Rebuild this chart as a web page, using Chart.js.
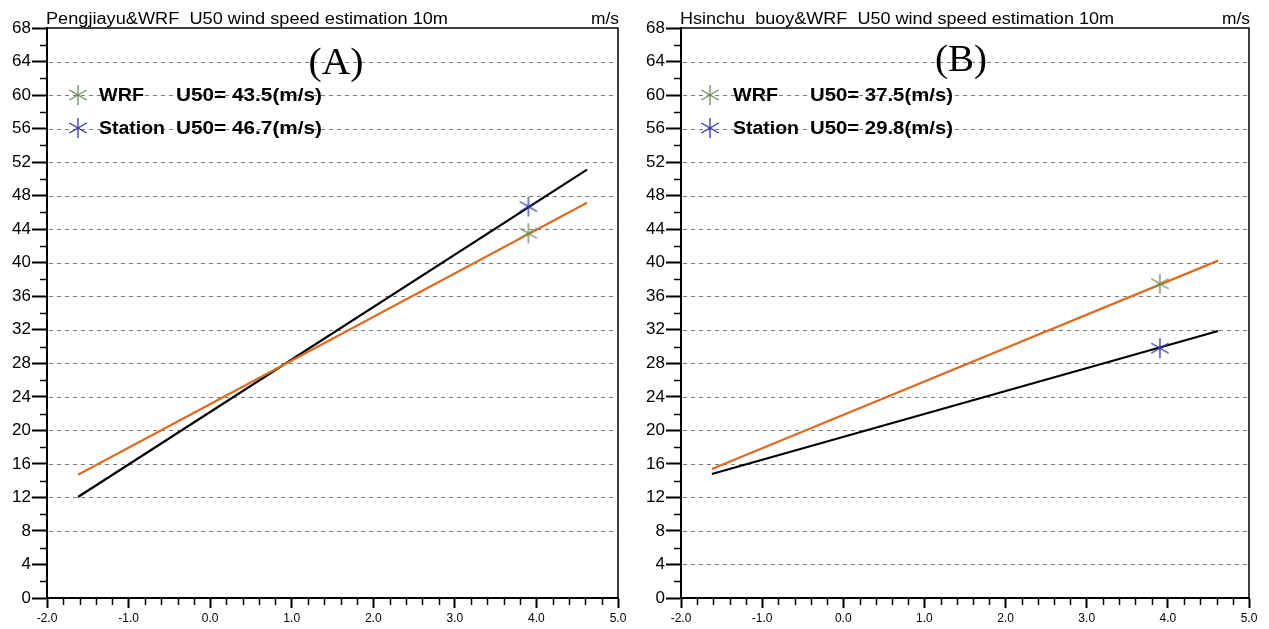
<!DOCTYPE html>
<html><head><meta charset="utf-8">
<script src="https://cdn.jsdelivr.net/npm/chart.js@4.4.1/dist/chart.umd.min.js"></script>
<style>
html,body{margin:0;padding:0;background:#fff;overflow:hidden}
#wrap{position:relative;width:1269px;height:629px;background:#fff}
canvas{position:absolute;top:0}
</style></head><body>
<div id="wrap">
<canvas id="cA" width="640" height="629" style="left:0;width:640px;height:629px"></canvas>
<canvas id="cB" width="629" height="629" style="left:640px;width:629px;height:629px"></canvas>
</div>
<script>
// ---- data ----
const fitX = [-1.62, 4.62];           // Gumbel reduced variate span of fitted lines
const returnX = 3.902;                // 50-year reduced variate
const pengWRFFit = [14.7, 47.15];
const pengStationFit = [12.05, 51.1];
const pengWRFU50 = 43.5;
const pengStationU50 = 46.7;
const hsinWRFFit = [15.4, 40.25];
const hsinStationFit = [14.8, 31.85];
const hsinWRFU50 = 37.5;
const hsinStationU50 = 29.8;
const gridLevelsA = [8,12,16,20,24,28,32,36,40,44,48,52,56,60,64];
const gridLevelsB = [4,8,12,16,20,24,28,32,36,40,44,48,52,56,60,64];
const titleA = "Pengjiayu&WRF  U50 wind speed estimation 10m";
const titleB = "Hsinchu  buoy&WRF  U50 wind speed estimation 10m";
const unitText = "m/s";
const panelA = "(A)", panelB = "(B)";

const GREEN = '#6e8b54', BLUE = '#3434aa', ORANGE = '#dc6c24';

function makeStar(color){
  const c = document.createElement('canvas');
  c.width = 24; c.height = 24;
  const g = c.getContext('2d');
  g.strokeStyle = color; g.lineWidth = 1.3;
  const r = 10;
  [90, 30, 150].forEach(a => {
    const t = a*Math.PI/180;
    g.beginPath();
    g.moveTo(12 + r*Math.cos(t), 12 - r*Math.sin(t));
    g.lineTo(12 - r*Math.cos(t), 12 + r*Math.sin(t));
    g.stroke();
  });
  return c;
}
const starG = makeStar(GREEN), starB = makeStar(BLUE);

function fitText(ctx, text, x, y, targetW, font, align){
  ctx.save();
  ctx.font = font;
  const w = ctx.measureText(text).width;
  const s = targetW / w;
  ctx.textAlign = 'left';
  ctx.textBaseline = 'alphabetic';
  const x0 = align === 'right' ? x - targetW : (align === 'center' ? x - targetW/2 : x);
  ctx.translate(x0, y);
  ctx.scale(s, 1);
  ctx.fillText(text, 0, 0);
  ctx.restore();
}

function panelPlugin(cfg){
  return {
    id: 'panel',
    beforeDatasetsDraw(chart){
      const {ctx, chartArea:a, scales:{y}} = chart;
      ctx.save();
      ctx.strokeStyle = '#7a7a7a'; ctx.lineWidth = 1; ctx.setLineDash([4,4]);
      cfg.grid.forEach(v => {
        const py = Math.round(y.getPixelForValue(v)) + 0.5;
        ctx.beginPath(); ctx.moveTo(a.left+2, py); ctx.lineTo(a.right, py); ctx.stroke();
      });
      ctx.restore();
      ctx.save();
      ctx.fillStyle = '#000';
      const f = 'bold 18px "Liberation Sans", Arial, sans-serif';
      ctx.drawImage(starG, cfg.legX - 12, cfg.legY1 - 12);
      ctx.drawImage(starB, cfg.legX - 12, cfg.legY2 - 12);
      fitText(ctx, 'WRF', cfg.txtX, cfg.legY1 + 6, cfg.wrfW, f);
      fitText(ctx, cfg.wrfU, cfg.u50X, cfg.legY1 + 6, cfg.uW, f);
      fitText(ctx, 'Station', cfg.txtX, cfg.legY2 + 6, cfg.stW, f);
      fitText(ctx, cfg.stU, cfg.u50X, cfg.legY2 + 6, cfg.uW, f);
      ctx.restore();
    },
    afterDraw(chart){
      const {ctx, chartArea:a, scales:{x,y}} = chart;
      ctx.save();
      ctx.strokeStyle = '#000'; ctx.lineWidth = 1.5;
      ctx.beginPath();
      ctx.moveTo(a.left, a.top); ctx.lineTo(a.right, a.top); ctx.lineTo(a.right, a.bottom);
      ctx.stroke();
      ctx.lineWidth = 1.5;
      for (let v = 2; v < 68; v += 4){
        const py = Math.round(y.getPixelForValue(v)) + 0.5;
        ctx.beginPath(); ctx.moveTo(a.left - 7, py); ctx.lineTo(a.left, py); ctx.stroke();
      }
      for (let i = 0; i <= 35; i++){
        if (i % 5 === 0) continue;
        const v = -2 + i*0.2;
        const px = Math.round(x.getPixelForValue(v)) + 0.5;
        ctx.beginPath(); ctx.moveTo(px, a.bottom); ctx.lineTo(px, a.bottom + 7); ctx.stroke();
      }
      ctx.fillStyle = '#000';
      const tf = '16px "Liberation Sans", Arial, sans-serif';
      fitText(ctx, cfg.title, a.left - 1, 24, cfg.titleW, tf);
      fitText(ctx, unitText, a.right + 1, 24, 28, tf, 'right');
      fitText(ctx, cfg.panel, cfg.panelX, cfg.panelY, cfg.panelW, '37px "Liberation Serif", "Times New Roman", serif', 'center');
      ctx.restore();
    }
  };
}

function makeChart(id, fitW, fitS, u50W, u50S, padRight, yWidth, cfg){
  const xs = fitX;
  return new Chart(document.getElementById(id), {
    type: 'scatter',
    data: {
      datasets: [
        { label: 'Station fit', data: [{x: xs[0], y: fitS[0]}, {x: xs[1], y: fitS[1]}],
          showLine: true, borderColor: '#000', borderWidth: 2.2, pointRadius: 0, order: 3 },
        { label: 'WRF fit', data: [{x: xs[0], y: fitW[0]}, {x: xs[1], y: fitW[1]}],
          showLine: true, borderColor: ORANGE, borderWidth: 2.2, pointRadius: 0, order: 2 },
        { label: 'WRF', data: [{x: returnX, y: u50W}], pointStyle: starG, pointRadius: 10, order: 1 },
        { label: 'Station', data: [{x: returnX, y: u50S}], pointStyle: starB, pointRadius: 10, order: 1 }
      ]
    },
    options: {
      responsive: false, animation: false, devicePixelRatio: 1,
      layout: { padding: { left: 0, right: padRight, top: 28, bottom: 0 } },
      plugins: { legend: { display: false }, tooltip: { enabled: false }, title: { display: false } },
      scales: {
        x: {
          type: 'linear', min: -2, max: 5,
          afterFit: s => { s.height = 31; },
          ticks: { stepSize: 1, padding: 3, color: '#000', maxRotation: 0,
                   font: { family: '"Liberation Sans", Arial, sans-serif', size: 12 },
                   callback: v => Number(v).toFixed(1) },
          grid: { drawOnChartArea: false, drawTicks: true, tickLength: 10, tickColor: '#000', tickWidth: 2 },
          border: { display: true, color: '#000', width: 2 }
        },
        y: {
          type: 'linear', min: 0, max: 68,
          afterFit: s => { s.width = yWidth; },
          ticks: { stepSize: 4, padding: 1, color: '#000',
                   font: { family: '"Liberation Sans", Arial, sans-serif', size: 17 },
                   callback: v => String(v) },
          grid: { drawOnChartArea: false, drawTicks: true, tickLength: 15, tickColor: '#000', tickWidth: 2 },
          border: { display: true, color: '#000', width: 2 }
        }
      }
    },
    plugins: [panelPlugin(cfg)]
  });
}

makeChart('cA', pengWRFFit, pengStationFit, pengWRFU50, pengStationU50, 22, 47, {
  grid: gridLevelsA, title: titleA, titleW: 402, panel: panelA, panelX: 336, panelY: 74, panelW: 55,
  legX: 78, legY1: 95, legY2: 128, txtX: 99, wrfW: 45, stW: 66, u50X: 176, uW: 146,
  wrfU: 'U50= ' + pengWRFU50.toFixed(1) + '(m/s)', stU: 'U50= ' + pengStationU50.toFixed(1) + '(m/s)'
});
makeChart('cB', hsinWRFFit, hsinStationFit, hsinWRFU50, hsinStationU50, 20, 41, {
  grid: gridLevelsB, title: titleB, titleW: 434, panel: panelB, panelX: 321, panelY: 71, panelW: 52,
  legX: 70, legY1: 95, legY2: 128, txtX: 93, wrfW: 45, stW: 66, u50X: 170, uW: 143,
  wrfU: 'U50= ' + hsinWRFU50.toFixed(1) + '(m/s)', stU: 'U50= ' + hsinStationU50.toFixed(1) + '(m/s)'
});
</script>
</body></html>
